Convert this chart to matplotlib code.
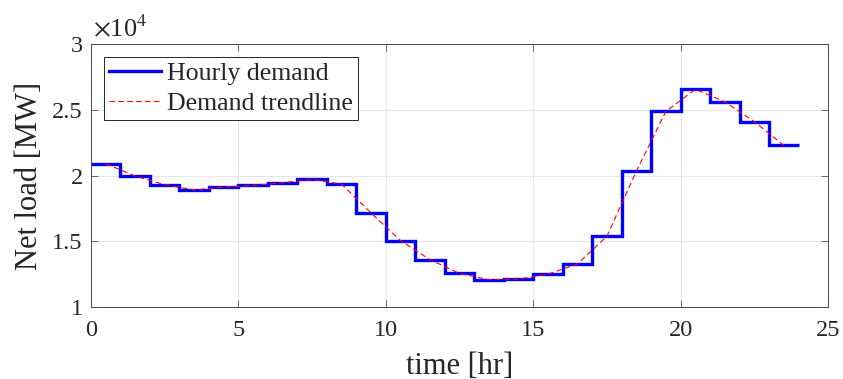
import numpy as np
import matplotlib
matplotlib.use("Agg")
import matplotlib.pyplot as plt

plt.rcParams['font.family'] = 'serif'
plt.rcParams['font.serif'] = ['Liberation Serif', 'DejaVu Serif']
plt.rcParams['mathtext.fontset'] = 'stix'

hours = np.arange(25)  # edges 0..24
demand = [20900, 19950, 19300, 18900, 19120, 19250, 19450, 19700, 19350, 17150,
          15050, 13600, 12550, 12080, 12120, 12500, 13270, 15380, 20330, 24870,
          26560, 25600, 24100, 22290]
trend_x = np.arange(24) + 0.5
trend_y = demand

xticks = [0, 5, 10, 15, 20, 25]
yticks = [10000, 15000, 20000, 25000, 30000]
yticklabels = ['1', '1.5', '2', '2.5', '3']

fig = plt.figure(figsize=(8.43, 3.79), dpi=100)
ax = fig.add_axes([91/843, 1-307/379, (828-91)/843, (307-44)/379])

ax.stairs(demand, hours, baseline=None, color='#0000ff', lw=2.4, label='Hourly demand')
ax.plot(trend_x, trend_y, color='#ff0000', lw=0.8, ls=(0, (5, 3)), label='Demand trendline')

ax.set_xlim(0, 25)
ax.set_ylim(10000, 30000)
ax.set_xticks(xticks)
ax.set_yticks(yticks)
ax.set_yticklabels(yticklabels)
ax.tick_params(direction='in', top=True, right=True, labelsize=17.5, colors='#4d4d4d',
               length=5, width=0.6)
ax.tick_params(axis='x', pad=9)
ax.tick_params(axis='y', pad=6)
for lab in ax.get_xticklabels() + ax.get_yticklabels():
    lab.set_color('#262626')
ax.grid(True, color='#e6e6e6', lw=0.8)
ax.set_axisbelow(True)
for s in ax.spines.values():
    s.set_color('#4d4d4d')
    s.set_linewidth(0.7)

ax.set_xlabel('time [hr]', fontsize=22, labelpad=8, color='#262626')
ax.set_ylabel('Net load [MW]', fontsize=22, labelpad=6, color='#262626')
ax.text(0.003, 1.01, r'$\times\mathregular{10}^{4}$', transform=ax.transAxes, fontsize=19,
        ha='left', va='bottom', color='#262626')

leg = ax.legend(loc='upper left', bbox_to_anchor=(13/737, 1-13/263), fontsize=18.6,
                fancybox=False, framealpha=1, edgecolor='#262626', handlelength=2.0,
                borderpad=0.2, labelspacing=0.25, handletextpad=0.25, borderaxespad=0)
leg.get_frame().set_linewidth(0.7)
for t in leg.get_texts():
    t.set_color('#262626')

fig.savefig('out.png', dpi=100)
